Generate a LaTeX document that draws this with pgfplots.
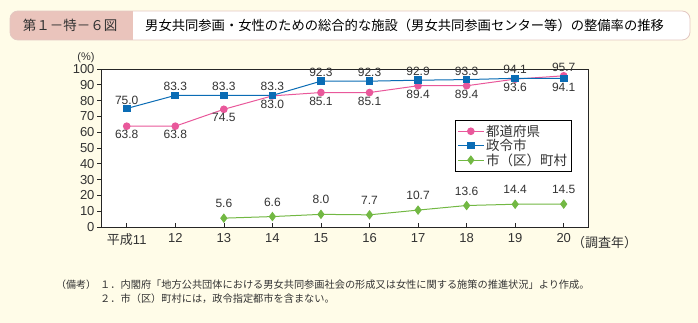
\documentclass[border=0pt]{standalone}
\usepackage{pgfplots}
\pgfplotsset{compat=1.18}
\usepackage{fontspec}
\setmainfont{Liberation Sans}
\newfontfamily\cjk{Noto Sans CJK JP}
\definecolor{bg}{HTML}{FFFCE8}
\definecolor{bannerpink}{HTML}{EAC4BC}
\definecolor{bannerborder}{HTML}{E3C8C2}
\definecolor{cpink}{HTML}{E9589B}
\definecolor{cblue}{HTML}{0A6CB5}
\definecolor{cgreen}{HTML}{72B843}
\definecolor{txt}{HTML}{333333}

\pgfplotstableread{
x y
11 63.8
12 63.8
13 74.5
14 83.0
15 85.1
16 85.1
17 89.4
18 89.4
19 93.6
20 95.7
}\pref
\pgfplotstableread{
x y
11 75.0
12 83.3
13 83.3
14 83.3
15 92.3
16 92.3
17 92.9
18 93.3
19 94.1
20 94.1
}\city
\pgfplotstableread{
x y
13 5.6
14 6.6
15 8.0
16 7.7
17 10.7
18 13.6
19 14.4
20 14.5
}\town

\begin{document}
\begin{tikzpicture}[x=1pt,y=1pt]
\fill[bg] (0,0) rectangle (698,323);
% banner
\begin{scope}
\clip[rounded corners=8pt] (10,283) rectangle (690,312);
\fill[white] (10,283) rectangle (690,312);
\fill[bannerpink] (10,283) rectangle (133,312);
\end{scope}
\draw[bannerborder, line width=0.8pt, rounded corners=8pt] (10,283) rectangle (690,312);
\node[text=txt] at (70,297.5) {\cjk\fontsize{13.5}{15}\selectfont 第１－特－６図};
\node[anchor=west, text=black, inner sep=0pt] at (145,297.5) {\cjk\fontsize{13.3}{15}\selectfont 男女共同参画・女性のための総合的な施設（男女共同参画センター等）の整備率の推移};

\begin{axis}[
  at={(101pt,96pt)}, anchor=south west,
  scale only axis, width=487pt, height=158pt,
  xmin=10.47, xmax=20.5, ymin=0, ymax=100,
  axis background/.style={fill=white},
  axis line style={black!85, line width=0.8pt},
  xtick={11,...,20},
  xticklabels={{\cjk 平成}11,12,13,14,15,16,17,18,19,20},
  ytick={0,10,...,100},
  xtick pos=bottom, ytick pos=left,
  xtick align=inside, ytick align=outside,
  major tick length=4pt,
  tick style={black!85, line width=0.6pt},
  tick label style={font=\fontsize{13}{15}\selectfont, text=txt},
  yticklabel style={xshift=1pt},
  xticklabel style={yshift=-3pt},
  /pgf/number format/assume math mode=true,
  clip=false,
  legend style={at={(0.967,0.677)}, anchor=north east, draw=black, line width=0.6pt, fill=white,
    font=\cjk\fontsize{13.5}{15}\selectfont, row sep=-2.5pt, inner sep=2.5pt, text=txt},
  legend image code/.code={
    \draw[mark repeat=2,mark phase=2] plot coordinates {(0cm,0cm) (0.45cm,0cm) (0.9cm,0cm)};},
  legend cell align=left,
  every axis plot/.append style={line width=1pt},
  lab/.style={draw=none, mark=none, forget plot, nodes near coords,
    point meta=explicit,
    every node near coord/.append style={font=\fontsize{12}{13}\selectfont, text=txt,
      /pgf/number format/fixed, /pgf/number format/fixed zerofill, /pgf/number format/precision=1}},
  labup/.style={lab, every node near coord/.append style={anchor=south, yshift=0.5pt}},
  labdown/.style={lab, every node near coord/.append style={anchor=north, yshift=-0.5pt}},
]
\addplot[cpink, mark=*, mark size=3.3pt, mark options={fill=cpink, draw=cpink}] table[x=x,y=y] {\pref};
\addlegendentry{都道府県}
\addplot[cblue, mark=square*, mark size=3.3pt, mark options={fill=cblue, draw=cblue}] table[x=x,y=y] {\city};
\addlegendentry{政令市}
\addplot[cgreen, mark=diamond*, mark size=4pt, mark options={fill=cgreen, draw=cgreen}] table[x=x,y=y] {\town};
\addlegendentry{市（区）町村}

% labels pink
\addplot[labdown] coordinates {(11,63.8) [63.8] (12,63.8) [63.8] (13,74.5) [74.5] (14,83.0) [83.0] (15,85.1) [85.1] (16,85.1) [85.1] (17,89.4) [89.4] (18,89.4) [89.4] (19,93.6) [93.6]};
\addplot[labup] coordinates {(20,95.7) [95.7]};
% labels blue
\addplot[labup] coordinates {(11,75.0) [75.0] (12,83.3) [83.3] (13,83.3) [83.3] (14,83.3) [83.3] (15,92.3) [92.3] (16,92.3) [92.3] (17,92.9) [92.9] (18,93.3) [93.3] (19,94.1) [94.1]};
\addplot[labdown] coordinates {(20,94.1) [94.1]};
% labels green
\addplot[labup, every node near coord/.append style={yshift=6pt}] coordinates {(13,5.6) [5.6] (14,6.6) [6.6] (15,8.0) [8.0] (16,7.7) [7.7] (17,10.7) [10.7] (18,13.6) [13.6] (19,14.4) [14.4] (20,14.5) [14.5]};
\end{axis}

\node[text=txt, font=\fontsize{11}{12}\selectfont] at (86,265) {(\%)};
\node[anchor=west, text=txt, inner sep=0pt] at (572,80) {\cjk\fontsize{13}{15}\selectfont （調査年）};

% notes
\node[anchor=west, inner sep=0pt, text=txt] at (56,38) {\cjk\fontsize{10}{11}\selectfont （備考）};
\node[anchor=west, inner sep=0pt, text=txt] at (100,38) {\cjk\fontsize{10.2}{11}\selectfont １．内閣府「地方公共団体における男女共同参画社会の形成又は女性に関する施策の推進状況」より作成。};
\node[anchor=west, inner sep=0pt, text=txt] at (100,24) {\cjk\fontsize{10.2}{11}\selectfont ２．市（区）町村には，政令指定都市を含まない。};
\end{tikzpicture}
\end{document}
